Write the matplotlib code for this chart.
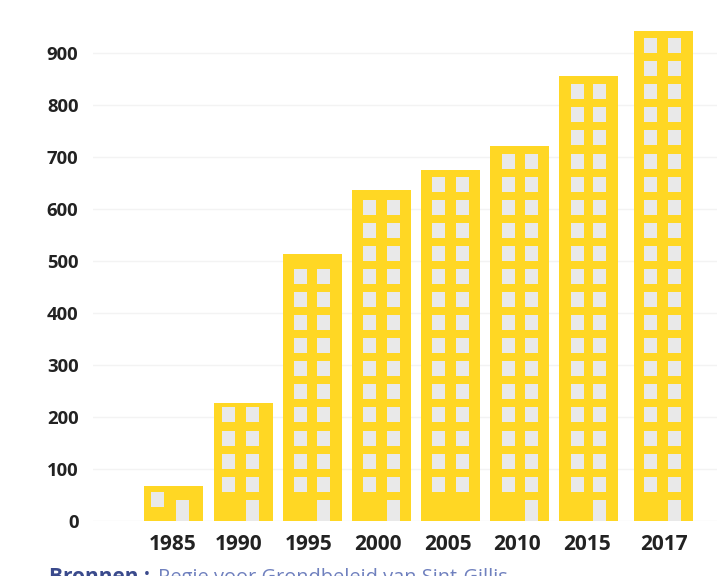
import matplotlib
matplotlib.use("Agg")
import matplotlib.pyplot as plt

years = ["1985", "1990", "1995", "2000", "2005", "2010", "2015", "2017"]
values = [68, 227, 513, 636, 675, 721, 855, 942]
window_rows = [1, 4, 10, 13, 14, 15, 18, 20]
has_door = [True, True, True, True, False, True, True, True]
y_ticks = [0, 100, 200, 300, 400, 500, 600, 700, 800, 900]
source_bold = "Bronnen :"
source_text = "Regie voor Grondbeleid van Sint-Gillis"

W, H = 717, 576
Y0_PX = 521.0
PX_PER_UNIT = 0.5205
BAR_LEFT = [144, 213.5, 283, 352, 421, 490, 559, 633.5]
LABEL_X = [173, 239, 309, 378, 448, 517, 587, 664]
BAR_W = 59
COL_OFF = [[6.5], [8.5, 32], [10.5, 33.5], [10.5, 34.5], [10.5, 34.5], [11.5, 34.5], [11.5, 33.5], [10.5, 34.5]]
DOOR_OFF = [31.5, 32, 33.5, 34.5, 34.5, 34.5, 33.5, 34.5]
WIN_W, WIN_H, PITCH = 13, 15, 23.08
BOTTOM_WIN_PX = 29.3  # px from baseline to the bottom of the lowest window row
DOOR_H = 21
YELLOW, GREY = "#FFD724", "#E9E9E9"

fig = plt.figure(figsize=(W / 100, H / 100), dpi=100, facecolor="white")
ax = fig.add_axes([93 / W, (H - Y0_PX) / H, (W - 93) / W, Y0_PX / H])
ax.set_xlim(93, W)
ax.set_ylim(0, Y0_PX / PX_PER_UNIT)
u = 1 / PX_PER_UNIT

ax.yaxis.grid(True, color="#F3F3F3", lw=1)
ax.set_axisbelow(True)
for s in ax.spines.values():
    s.set_visible(False)

centers = [l + BAR_W / 2 for l in BAR_LEFT]
ax.bar(centers, values, width=BAR_W, color=YELLOW, zorder=2)

for i, v in enumerate(values):
    l = BAR_LEFT[i]
    for off in COL_OFF[i]:
        if i == 0:
            ax.bar(l + off + WIN_W / 2, WIN_H * u, WIN_W, bottom=14 * u, color=GREY, zorder=3)
            continue
        for r in range(window_rows[i]):
            ax.bar(l + off + WIN_W / 2, WIN_H * u, WIN_W,
                   bottom=(BOTTOM_WIN_PX + r * PITCH) * u, color=GREY, zorder=3)
    if has_door[i]:
        ax.bar(l + DOOR_OFF[i] + WIN_W / 2, DOOR_H * u, WIN_W, bottom=0, color=GREY, zorder=3)

ax.set_yticks(y_ticks)
ax.set_yticklabels([str(t) for t in y_ticks], fontfamily="Open Sans", fontweight="bold",
                   fontsize=13.3, color="#222222")
ax.tick_params(axis="y", length=0, pad=10.5)
ax.set_xticks(LABEL_X)
ax.set_xticklabels(years, fontfamily="Open Sans", fontweight="bold", fontsize=15, color="#222222")
ax.tick_params(axis="x", length=0, pad=9.5)

fig.text(49 / W, (H - 583) / H, source_bold, fontfamily="Open Sans", fontweight="bold",
         fontsize=15, color="#3A4A8C", va="baseline")
fig.text(158 / W, (H - 583) / H, source_text, fontfamily="Open Sans",
         fontsize=14.45, color="#6F80BE", va="baseline")

fig.savefig("out.png", dpi=100)
